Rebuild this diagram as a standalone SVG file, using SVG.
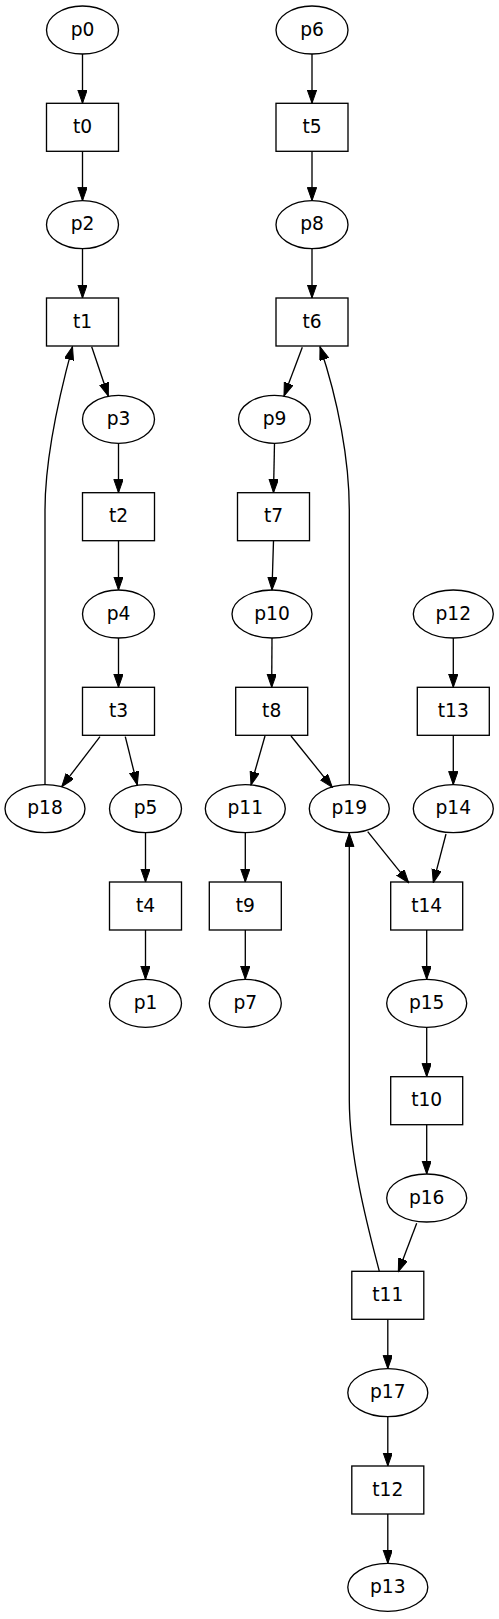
<svg xmlns="http://www.w3.org/2000/svg" width="499" height="1619" viewBox="0 0 499 1619">
<style>
.n ellipse,.n rect{fill:none;stroke:#000;stroke-width:1.33}
.n text{font-family:"DejaVu Sans",sans-serif;font-size:18.67px;text-anchor:middle;fill:#000}
.e path{fill:none;stroke:#000;stroke-width:1.33;marker-end:url(#a)}
</style>
<defs>
<marker id="a" markerWidth="14" markerHeight="10" refX="13.3" refY="4.67" orient="auto" markerUnits="userSpaceOnUse"><path d="M0,0 L13.3,4.67 L0,9.33 z" fill="#000" stroke="#000" stroke-width="1"/></marker>
</defs>
<rect width="499" height="1619" fill="#fff"/>
<g class="e" id="edges">
<path d="M82.5,54 L82.5,103.3"/>
<path d="M82.5,151.3 L82.5,200.7"/>
<path d="M82.5,248.7 L82.5,298"/>
<path d="M91.7,346.7 L108.3,396"/>
<path d="M118.5,443.3 L118.5,492.7"/>
<path d="M118.5,540.7 L118.5,590"/>
<path d="M118.5,638 L118.5,687.3"/>
<path d="M100,736.7 L61.7,786.7"/>
<path d="M125.3,736.7 L137.3,785"/>
<path d="M45,784.7 C45,680 45,560 45,510 C45,460 58,400 72.5,346.7"/>
<path d="M145.5,832.7 L145.5,882"/>
<path d="M145.5,930 L145.5,979.3"/>
<path d="M312,54 L312,103.3"/>
<path d="M312,151.3 L312,200.7"/>
<path d="M312,248.7 L312,298"/>
<path d="M302.3,347.3 L284,396"/>
<path d="M274.5,443.3 L273.5,492.7"/>
<path d="M273.5,540.7 L272,590"/>
<path d="M272,638 L271.7,687.3"/>
<path d="M265,736 L251,785"/>
<path d="M291,736 L332.3,787.3"/>
<path d="M349.3,784.7 C349.3,680 349.3,560 349.3,510 C349.3,460 338,400 320,346.7"/>
<path d="M245.3,832.7 L245.3,882"/>
<path d="M245.3,930 L245.3,979.3"/>
<path d="M453.3,638 L453.3,687.3"/>
<path d="M453.3,735.3 L453.3,784.7"/>
<path d="M446,834 L433.3,882.7"/>
<path d="M367.7,831.7 L408.7,882.7"/>
<path d="M426.7,930 L426.7,979.3"/>
<path d="M426.7,1027.3 L426.7,1076.7"/>
<path d="M426.7,1124.7 L426.7,1174"/>
<path d="M416.7,1223.3 L398.3,1271.7"/>
<path d="M379.3,1271.3 C370,1235 349.3,1160 349.3,1100 L349.3,833.3"/>
<path d="M387.8,1319.3 L387.8,1368.7"/>
<path d="M387.8,1416.7 L387.8,1466"/>
<path d="M387.8,1514 L387.8,1563.3"/>
</g>
<g class="n" id="p0"><ellipse cx="82.5" cy="30" rx="36" ry="24"/><text x="82.5" y="35.6">p0</text></g>
<g class="n" id="t0"><rect x="46.5" y="103.3" width="72" height="48"/><text x="82.5" y="132.9">t0</text></g>
<g class="n" id="p2"><ellipse cx="82.5" cy="224.7" rx="36" ry="24"/><text x="82.5" y="230.3">p2</text></g>
<g class="n" id="t1"><rect x="46.5" y="298" width="72" height="48"/><text x="82.5" y="327.6">t1</text></g>
<g class="n" id="p3"><ellipse cx="118.5" cy="419.3" rx="36" ry="24"/><text x="118.5" y="424.9">p3</text></g>
<g class="n" id="t2"><rect x="82.5" y="492.7" width="72" height="48"/><text x="118.5" y="522.3">t2</text></g>
<g class="n" id="p4"><ellipse cx="118.5" cy="614" rx="36" ry="24"/><text x="118.5" y="619.6">p4</text></g>
<g class="n" id="t3"><rect x="82.5" y="687.3" width="72" height="48"/><text x="118.5" y="716.9">t3</text></g>
<g class="n" id="p18"><ellipse cx="45" cy="808.7" rx="40" ry="24"/><text x="45" y="814.3">p18</text></g>
<g class="n" id="p5"><ellipse cx="145.5" cy="808.7" rx="36" ry="24"/><text x="145.5" y="814.3">p5</text></g>
<g class="n" id="t4"><rect x="109.5" y="882" width="72" height="48"/><text x="145.5" y="911.6">t4</text></g>
<g class="n" id="p1"><ellipse cx="145.5" cy="1003.3" rx="36" ry="24"/><text x="145.5" y="1008.9">p1</text></g>
<g class="n" id="p6"><ellipse cx="312" cy="30" rx="36" ry="24"/><text x="312" y="35.6">p6</text></g>
<g class="n" id="t5"><rect x="276" y="103.3" width="72" height="48"/><text x="312" y="132.9">t5</text></g>
<g class="n" id="p8"><ellipse cx="312" cy="224.7" rx="36" ry="24"/><text x="312" y="230.3">p8</text></g>
<g class="n" id="t6"><rect x="276" y="298" width="72" height="48"/><text x="312" y="327.6">t6</text></g>
<g class="n" id="p9"><ellipse cx="274.5" cy="419.3" rx="36" ry="24"/><text x="274.5" y="424.9">p9</text></g>
<g class="n" id="t7"><rect x="237.5" y="492.7" width="72" height="48"/><text x="273.5" y="522.3">t7</text></g>
<g class="n" id="p10"><ellipse cx="272" cy="614" rx="40" ry="24"/><text x="272" y="619.6">p10</text></g>
<g class="n" id="t8"><rect x="235.7" y="687.3" width="72" height="48"/><text x="271.7" y="716.9">t8</text></g>
<g class="n" id="p11"><ellipse cx="245.3" cy="808.7" rx="40" ry="24"/><text x="245.3" y="814.3">p11</text></g>
<g class="n" id="p19"><ellipse cx="349.3" cy="808.7" rx="40" ry="24"/><text x="349.3" y="814.3">p19</text></g>
<g class="n" id="t9"><rect x="209.3" y="882" width="72" height="48"/><text x="245.3" y="911.6">t9</text></g>
<g class="n" id="p7"><ellipse cx="245.3" cy="1003.3" rx="36" ry="24"/><text x="245.3" y="1008.9">p7</text></g>
<g class="n" id="p12"><ellipse cx="453.3" cy="614" rx="40" ry="24"/><text x="453.3" y="619.6">p12</text></g>
<g class="n" id="t13"><rect x="417.3" y="687.3" width="72" height="48"/><text x="453.3" y="716.9">t13</text></g>
<g class="n" id="p14"><ellipse cx="453.3" cy="808.7" rx="40" ry="24"/><text x="453.3" y="814.3">p14</text></g>
<g class="n" id="t14"><rect x="390.7" y="882" width="72" height="48"/><text x="426.7" y="911.6">t14</text></g>
<g class="n" id="p15"><ellipse cx="426.7" cy="1003.3" rx="40" ry="24"/><text x="426.7" y="1008.9">p15</text></g>
<g class="n" id="t10"><rect x="390.7" y="1076.7" width="72" height="48"/><text x="426.7" y="1106.3">t10</text></g>
<g class="n" id="p16"><ellipse cx="426.7" cy="1198" rx="40" ry="24"/><text x="426.7" y="1203.6">p16</text></g>
<g class="n" id="t11"><rect x="351.8" y="1271.3" width="72" height="48"/><text x="387.8" y="1300.9">t11</text></g>
<g class="n" id="p17"><ellipse cx="387.8" cy="1392.7" rx="40" ry="24"/><text x="387.8" y="1398.3">p17</text></g>
<g class="n" id="t12"><rect x="351.8" y="1466" width="72" height="48"/><text x="387.8" y="1495.6">t12</text></g>
<g class="n" id="p13"><ellipse cx="387.8" cy="1587.3" rx="40" ry="24"/><text x="387.8" y="1592.9">p13</text></g>
</svg>
